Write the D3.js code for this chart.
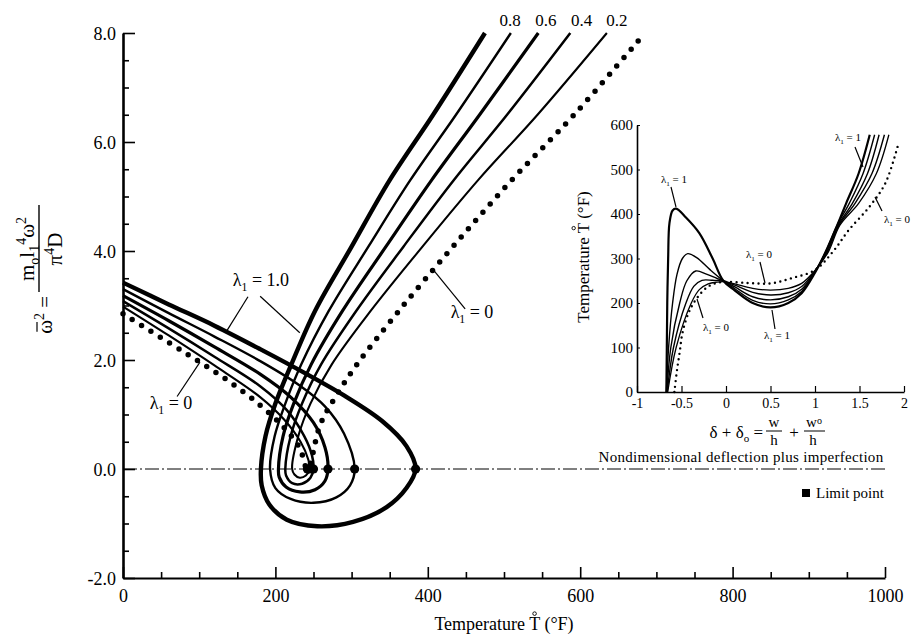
<!DOCTYPE html>
<html>
<head>
<meta charset="utf-8">
<script src="https://cdn.jsdelivr.net/npm/d3@7"></script>
<style>
  body { margin: 0; background: #fff; }
  svg { display: block; }
  text { font-family: "Liberation Serif", "Times New Roman", serif; fill: #000; }
</style>
</head>
<body>
<svg id="chart" width="915" height="637"></svg>
<script>
// --- data ---
// main plot: [temperature (F), nondimensional frequency squared]
const xTicks = [0, 200, 400, 600, 800, 1000];
const yTicks = [-2, 0, 2, 4, 6, 8];
const yTickLabels = ["-2.0", "0.0", "2.0", "4.0", "6.0", "8.0"];
const topLabels = ["0.8", "0.6", "0.4", "0.2"];

// each path: upper branch -> limit point -> loop below zero -> rising branch
const curveL10 = [[0,3.42],[60,3.02],[120,2.63],[180,2.20],[240,1.75],[290,1.35],[340,0.88],[372,0.42],[384,0],[372,-0.35],[346,-0.70],[302,-0.97],[255,-1.05],[215,-0.93],[192,-0.65],[182,-0.3],[181,0],[187,0.6],[200,1.2],[221,1.92],[252,2.9],[300,4.08],[350,5.3],[407,6.5],[475,8.0]];
const curveL08 = [[0,3.30],[60,2.86],[120,2.43],[180,1.98],[230,1.55],[265,1.15],[290,0.65],[304,0],[298,-0.3],[280,-0.52],[250,-0.62],[220,-0.55],[200,-0.35],[193,0],[199,0.6],[213,1.2],[234,1.92],[270,2.9],[322,4.08],[377,5.3],[437,6.5],[509,8.0]];
const curveL06 = [[0,3.18],[60,2.72],[120,2.24],[180,1.74],[220,1.32],[250,0.85],[265,0.4],[269,0],[265,-0.22],[252,-0.38],[232,-0.42],[214,-0.33],[205,-0.15],[204,0],[210,0.6],[224,1.2],[247,1.92],[288,2.9],[345,4.08],[405,5.3],[468,6.5],[545,8.0]];
const curveL04 = [[0,3.08],[60,2.58],[120,2.06],[180,1.52],[215,1.08],[238,0.6],[248,0.25],[250,0],[246,-0.16],[235,-0.27],[222,-0.26],[214,-0.12],[213,0],[220,0.6],[235,1.2],[260,1.92],[306,2.9],[368,4.08],[434,5.3],[504,6.5],[587,8.0]];
const curveL02 = [[0,2.98],[60,2.45],[120,1.90],[180,1.32],[212,0.9],[233,0.5],[243,0.18],[245,0],[240,-0.12],[232,-0.16],[225,-0.1],[222,0],[230,0.6],[246,1.2],[274,1.92],[325,2.9],[393,4.08],[466,5.3],[544,6.5],[635,8.0]];
const curveL0 = [[0,2.85],[60,2.32],[101,1.96],[140,1.60],[180,1.17],[210,0.78],[232,0.38],[242,0],[259,0.82],[281,1.37],[307,1.92],[362,2.9],[433,4.08],[510,5.3],[592,6.5],[685,8.0]];
const limitPoints = [384, 304, 269, 250, 245, 242];

// inset: [deflection plus imperfection, temperature (F)]
const insetXTicks = [-1, -0.5, 0, 0.5, 1, 1.5, 2];
const insetXLabels = ["-1", "-0.5", "0", "0.5", "1", "1.5", "2"];
const insetYTicks = [0, 100, 200, 300, 400, 500, 600];
const insetL10 = [[-0.67,0],[-0.665,100],[-0.66,200],[-0.65,300],[-0.635,380],[-0.6,408],[-0.56,412],[-0.45,392],[-0.3,357],[-0.15,300],[-0.03,250],[0.1,228],[0.3,200],[0.5,190],[0.7,200],[0.85,222],[1.0,268],[1.12,315],[1.25,375],[1.35,424],[1.49,491],[1.615,578]];
const insetL08 = [[-0.67,0],[-0.645,100],[-0.6,200],[-0.55,265],[-0.49,300],[-0.43,311],[-0.33,302],[-0.18,275],[-0.03,250],[0.1,232],[0.3,206],[0.5,198],[0.7,207],[0.85,226],[1.0,270],[1.12,315],[1.25,375],[1.385,424],[1.54,491],[1.67,578]];
const insetL06 = [[-0.665,0],[-0.62,100],[-0.52,200],[-0.44,250],[-0.34,272],[-0.22,265],[-0.1,255],[-0.03,250],[0.1,236],[0.3,214],[0.5,207],[0.7,214],[0.85,231],[1.0,271],[1.13,315],[1.26,375],[1.42,424],[1.59,491],[1.72,578]];
const insetL04 = [[-0.66,0],[-0.59,100],[-0.45,200],[-0.36,238],[-0.27,251],[-0.15,251],[-0.03,249],[0.1,240],[0.3,224],[0.5,218],[0.7,223],[0.85,237],[1.0,272],[1.14,315],[1.27,375],[1.45,424],[1.64,491],[1.78,578]];
const insetL02 = [[-0.655,0],[-0.56,100],[-0.39,200],[-0.3,230],[-0.2,243],[-0.1,247],[-0.02,248],[0.1,243],[0.3,233],[0.5,229],[0.7,233],[0.85,244],[1.0,273],[1.15,315],[1.28,375],[1.49,424],[1.69,491],[1.83,578]];
const insetL0 = [[-0.58,0],[-0.55,50],[-0.52,90],[-0.49,132],[-0.42,178],[-0.33,210],[-0.2,237],[-0.05,247],[0.25,245],[0.5,244],[0.74,256],[1.0,274],[1.2,315],[1.38,364],[1.61,416],[1.79,469],[1.94,560]];

const svg = d3.select("#chart");

// --- main plot scales ---
const x = d3.scaleLinear().domain([0, 1000]).range([123, 885]);
const y = d3.scaleLinear().domain([-2, 8]).range([578, 33]);

// zero reference line (dash-dot)
svg.append("line")
  .attr("x1", x(0)).attr("x2", x(1000))
  .attr("y1", y(0)).attr("y2", y(0))
  .attr("stroke", "#000").attr("stroke-width", 1)
  .attr("stroke-dasharray", "14,3,2,3");

// axes
const gx = svg.append("g").attr("transform", `translate(0,${y(-2)})`);
gx.call(d3.axisBottom(x).tickValues(d3.range(0, 1001, 50)).tickSizeInner(-6).tickSizeOuter(0).tickFormat(""));
gx.selectAll(".tick line").filter(d => xTicks.includes(d)).attr("y2", -11);
gx.selectAll(".tick").filter(d => xTicks.includes(d)).append("text")
  .attr("y", 24).attr("text-anchor", "middle").attr("font-size", 18)
  .text(d => d);
gx.select(".domain").attr("stroke-width", 2.2);
gx.selectAll(".tick line").attr("stroke-width", 1.6);

const gy = svg.append("g").attr("transform", `translate(${x(0)},0)`);
gy.call(d3.axisLeft(y).tickValues(d3.range(-2, 8.01, 0.5)).tickSizeInner(-6).tickSizeOuter(0).tickFormat(""));
gy.selectAll(".tick line").filter(d => yTicks.includes(d)).attr("x2", 12);
gy.selectAll(".tick").filter(d => yTicks.includes(d)).append("text")
  .attr("x", -7).attr("dy", "0.34em").attr("text-anchor", "end").attr("font-size", 18)
  .text(d => yTickLabels[yTicks.indexOf(d)]);
gy.select(".domain").attr("stroke-width", 2.6);
gy.selectAll(".tick line").attr("stroke-width", 1.6);

// curves
const line = d3.line().x(d => x(d[0])).y(d => y(d[1])).curve(d3.curveCatmullRom.alpha(0.5));
const mainSeries = [
  { data: curveL10, w: 4.4 },
  { data: curveL08, w: 2.4 },
  { data: curveL06, w: 3.2 },
  { data: curveL04, w: 2.5 },
  { data: curveL02, w: 2.1 }
];
svg.append("g").selectAll("path").data(mainSeries).join("path")
  .attr("d", d => line(d.data))
  .attr("fill", "none").attr("stroke", "#000")
  .attr("stroke-width", d => d.w).attr("stroke-linejoin", "round");
svg.append("path")
  .attr("d", line(curveL0))
  .attr("fill", "none").attr("stroke", "#000")
  .attr("stroke-width", 5.5).attr("stroke-linecap", "round")
  .attr("stroke-dasharray", "0,11");

// limit points
svg.append("g").selectAll("circle").data(limitPoints).join("circle")
  .attr("cx", d => x(d)).attr("cy", y(0)).attr("r", 4.6).attr("fill", "#000");

// labels for the lambda values at the top
svg.append("g").selectAll("text").data(topLabels).join("text")
  .attr("x", (d, i) => x([508, 555, 602, 648][i]))
  .attr("y", 26).attr("text-anchor", "middle").attr("font-size", 17)
  .text(d => d);

function lambdaText(g, px, py, value, size) {
  const t = g.append("text").attr("x", px).attr("y", py).attr("text-anchor", "middle").attr("font-size", size);
  t.append("tspan").text("λ");
  t.append("tspan").attr("font-size", size * 0.65).attr("dy", size * 0.28).text("1");
  t.append("tspan").attr("dy", -size * 0.28).text(" = " + value);
  return t;
}
function leader(g, a, b, w) {
  g.append("line").attr("x1", a[0]).attr("y1", a[1]).attr("x2", b[0]).attr("y2", b[1])
    .attr("stroke", "#000").attr("stroke-width", w || 1.2);
}
// small ring over the T of "Temperature T (F)"
function ringOverT(g, textSel, idx, size) {
  const box = textSel.node().getExtentOfChar(idx);
  g.append("circle")
    .attr("cx", box.x + box.width / 2)
    .attr("cy", box.y - size * 0.02)
    .attr("r", size * 0.1)
    .attr("fill", "none").attr("stroke", "#000").attr("stroke-width", 0.9);
}

const ann = svg.append("g");
lambdaText(ann, x(181), y(3.36), "1.0", 18);
leader(ann, [x(164), y(3.16)], [x(136), y(2.53)]);
leader(ann, [x(180), y(3.17)], [x(232), y(2.5)]);
lambdaText(ann, x(63), y(1.11), "0", 18);
leader(ann, [x(71), y(1.33)], [x(101), y(1.96)]);
lambdaText(ann, x(458), y(2.77), "0", 18);
leader(ann, [x(449), y(2.94)], [x(407), y(3.66)]);

// legend
svg.append("rect").attr("x", 802).attr("y", 489).attr("width", 8).attr("height", 8).attr("fill", "#000");
svg.append("text").attr("x", 816).attr("y", 498).attr("font-size", 15).text("Limit point");

// axis titles
const xtG = svg.append("g");
const xt = xtG.append("text").attr("x", 504).attr("y", 630).attr("text-anchor", "middle").attr("font-size", 18)
  .text("Temperature T (\u00B0F)");
ringOverT(xtG, xt, 12, 18);

const yl = svg.append("g").attr("transform", "rotate(-90)");
const num = yl.append("text").attr("x", -249).attr("y", 34).attr("text-anchor", "middle").attr("font-size", 21);
num.append("tspan").text("m");
num.append("tspan").attr("font-size", 14).attr("dy", 5).text("o");
num.append("tspan").attr("dy", -5).text("l");
num.append("tspan").attr("font-size", 14).attr("dy", 5).text("1");
num.append("tspan").attr("font-size", 14).attr("dy", -13).text("4");
num.append("tspan").attr("dy", 8).text("ω");
num.append("tspan").attr("font-size", 14).attr("dy", -8).text("2");
yl.append("line").attr("x1", -292).attr("x2", -205).attr("y1", 39).attr("y2", 39)
  .attr("stroke", "#000").attr("stroke-width", 1.4);
const den = yl.append("text").attr("x", -249).attr("y", 62).attr("text-anchor", "middle").attr("font-size", 21);
den.append("tspan").text("π");
den.append("tspan").attr("font-size", 14).attr("dy", -8).text("4");
den.append("tspan").attr("dy", 8).text("D");
yl.append("text").attr("x", -296).attr("y", 52).attr("text-anchor", "end").attr("font-size", 21).text("=");
const lhs = yl.append("text").attr("x", -313).attr("y", 52).attr("text-anchor", "end").attr("font-size", 21);
lhs.append("tspan").text("ω");
lhs.append("tspan").attr("font-size", 14).attr("dy", -8).text("2");
const omegaBox = lhs.node().getExtentOfChar(0);
yl.append("line")
  .attr("x1", omegaBox.x + 2).attr("x2", omegaBox.x + omegaBox.width - 2)
  .attr("y1", 37).attr("y2", 37)
  .attr("stroke", "#000").attr("stroke-width", 1.2);

// --- inset ---
const ix = d3.scaleLinear().domain([-1, 2]).range([637, 904]);
const iy = d3.scaleLinear().domain([0, 600]).range([392, 125]);

const igx = svg.append("g").attr("transform", `translate(0,${iy(0)})`);
igx.call(d3.axisBottom(ix).tickValues(insetXTicks).tickSizeInner(-6).tickSizeOuter(0).tickPadding(6)
  .tickFormat(d => insetXLabels[insetXTicks.indexOf(d)]));
igx.selectAll("text").attr("font-size", 14).attr("font-family", null);
igx.select(".domain").attr("stroke-width", 1.6);
igx.selectAll(".tick line").attr("stroke-width", 1.2);

const igy = svg.append("g").attr("transform", `translate(${ix(-1)},0)`);
igy.call(d3.axisLeft(iy).tickValues(insetYTicks).tickSizeInner(-3).tickSizeOuter(0).tickPadding(4));
igy.selectAll("text").attr("font-size", 15).attr("font-family", null);
igy.select(".domain").attr("stroke-width", 1.6);
igy.selectAll(".tick line").attr("stroke-width", 1);

const iline = d3.line().x(d => ix(d[0])).y(d => iy(d[1])).curve(d3.curveCatmullRom.alpha(0.5));
const insetSeries = [
  { data: insetL10, w: 2.2 },
  { data: insetL08, w: 1.4 },
  { data: insetL06, w: 1.4 },
  { data: insetL04, w: 1.4 },
  { data: insetL02, w: 1.3 }
];
svg.append("g").selectAll("path").data(insetSeries).join("path")
  .attr("d", d => iline(d.data))
  .attr("fill", "none").attr("stroke", "#000").attr("stroke-width", d => d.w);
svg.append("path")
  .attr("d", iline(insetL0))
  .attr("fill", "none").attr("stroke", "#000")
  .attr("stroke-width", 2.4).attr("stroke-linecap", "round")
  .attr("stroke-dasharray", "0,5.5");

const ia = svg.append("g");
lambdaText(ia, 674, 183, "1", 11);
leader(ia, [671, 187], [676, 207], 1.2);
lambdaText(ia, 759, 258, "0", 11);
leader(ia, [760, 262], [765, 283], 1.2);
lambdaText(ia, 716, 331, "0", 11);
leader(ia, [703, 318], [697, 299], 1.2);
lambdaText(ia, 777, 339, "1", 11);
leader(ia, [775, 329], [772, 310], 1.2);
lambdaText(ia, 848, 141, "1", 11);
leader(ia, [855, 147], [863, 167], 1.2);
lambdaText(ia, 897, 223, "0", 11);
leader(ia, [882, 211], [875, 197], 1.2);

// inset axis titles
const iylG = svg.append("g").attr("transform", "translate(589,257) rotate(-90)");
const iyl = iylG.append("text").attr("x", 0).attr("y", 0).attr("text-anchor", "middle").attr("font-size", 17)
  .text("Temperature T (\u00B0F)");
ringOverT(iylG, iyl, 12, 17);

const ixt = svg.append("g");
const d1 = ixt.append("text").attr("x", 763).attr("y", 438).attr("text-anchor", "end").attr("font-size", 17);
d1.append("tspan").text("δ + δ");
d1.append("tspan").attr("font-size", 11).attr("dy", 4).text("o");
d1.append("tspan").attr("dy", -4).text(" =");
ixt.append("text").attr("x", 774).attr("y", 427).attr("text-anchor", "middle").attr("font-size", 15).text("w");
ixt.append("line").attr("x1", 766).attr("x2", 782).attr("y1", 431).attr("y2", 431).attr("stroke", "#000").attr("stroke-width", 1);
ixt.append("text").attr("x", 774).attr("y", 445).attr("text-anchor", "middle").attr("font-size", 15).text("h");
ixt.append("text").attr("x", 794).attr("y", 438).attr("text-anchor", "middle").attr("font-size", 17).text("+");
const w2 = ixt.append("text").attr("x", 814).attr("y", 427).attr("text-anchor", "middle").attr("font-size", 15);
w2.append("tspan").text("w");
w2.append("tspan").attr("font-size", 10).attr("dy", -3).text("o");
ixt.append("line").attr("x1", 804).attr("x2", 825).attr("y1", 431).attr("y2", 431).attr("stroke", "#000").attr("stroke-width", 1);
ixt.append("text").attr("x", 813).attr("y", 445).attr("text-anchor", "middle").attr("font-size", 15).text("h");

svg.append("text").attr("x", 741).attr("y", 462).attr("text-anchor", "middle").attr("font-size", 15)
  .attr("letter-spacing", 0.3)
  .text("Nondimensional deflection plus imperfection");
</script>
</body>
</html>
